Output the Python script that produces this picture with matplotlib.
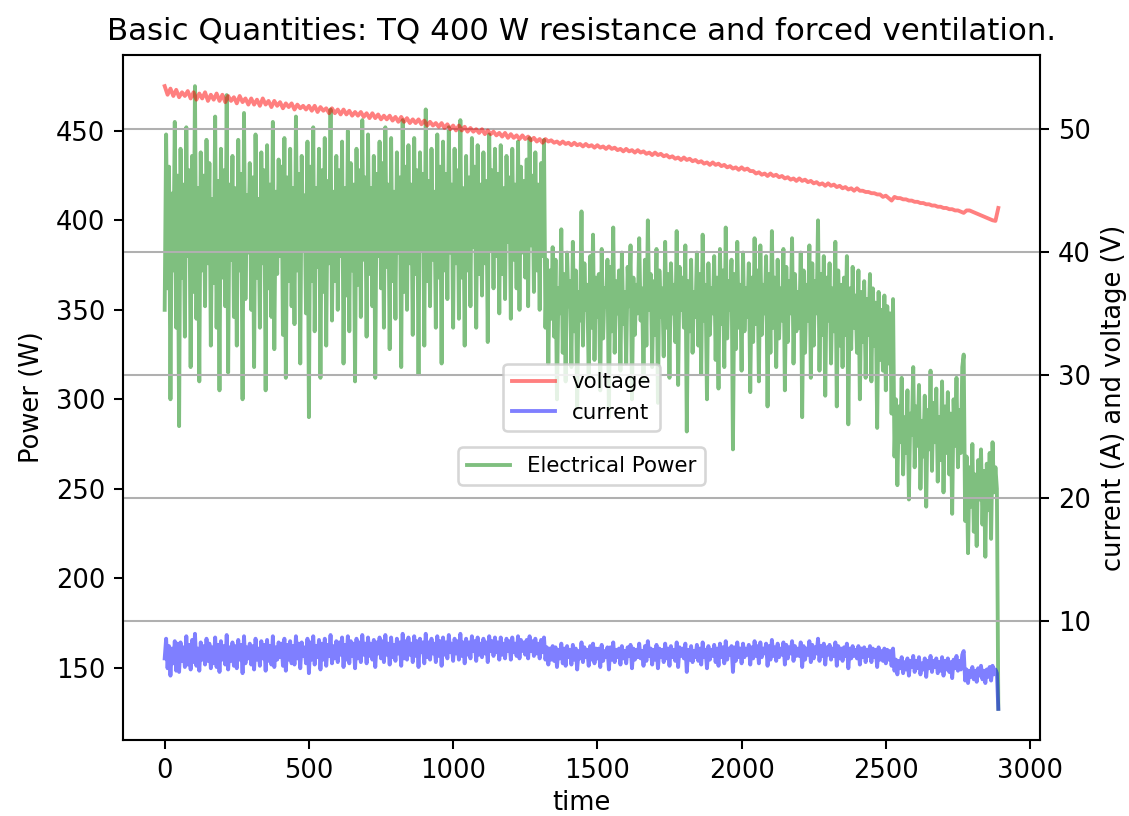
import numpy as np
import matplotlib
matplotlib.use("Agg")
import matplotlib.pyplot as plt

FAST_STEP = 5    # seconds between power / current samples
SLOW_STEP = 10   # seconds between voltage samples

power = [
    350, 448, 362, 430, 300, 415, 372, 455, 340, 425,
    285, 440, 368, 420, 335, 452, 380, 428, 318, 436,
    360, 475, 345, 418, 310, 438, 372, 425, 352, 445,
    376, 432, 330, 412, 365, 458, 340, 422, 305, 440,
    368, 428, 352, 470, 315, 420, 378, 436, 346, 418,
    330, 445, 372, 426, 300, 460, 356, 414, 382, 432,
    350, 424, 318, 448, 368, 412, 340, 438, 376, 428,
    305, 442, 362, 420, 346, 455, 328, 416, 370, 434,
    380, 430, 336, 446, 312, 424, 366, 440, 352, 418,
    342, 458, 372, 426, 320, 436, 384, 414, 348, 444,
    290, 430, 366, 452, 338, 418, 374, 440, 312, 428,
    360, 446, 330, 422, 376, 462, 344, 416, 366, 436,
    350, 428, 380, 444, 320, 418, 358, 450, 338, 432,
    372, 420, 310, 440, 364, 428, 346, 456, 378, 424,
    335, 448, 370, 418, 352, 436, 312, 426, 380, 444,
    362, 432, 340, 452, 374, 420, 328, 446, 366, 416,
    345, 438, 382, 424, 318, 456, 360, 430, 350, 442,
    376, 420, 336, 446, 370, 428, 314, 438, 384, 426,
    330, 462, 366, 422, 352, 440, 378, 416, 340, 448,
    368, 430, 320, 444, 372, 426, 356, 452, 382, 420,
    340, 440, 376, 428, 345, 456, 368, 418, 330, 436,
    372, 424, 352, 446, 385, 430, 340, 442, 370, 420,
    358, 438, 376, 422, 332, 448, 384, 428, 362, 440,
    380, 426, 348, 442, 370, 418, 356, 436, 388, 424,
    345, 440, 378, 420, 362, 444, 350, 430, 382, 422,
    368, 434, 352, 446, 386, 425, 360, 438, 372, 420,
    350, 432, 380, 445, 340, 378, 320, 372, 345, 385,
    335, 378, 300, 362, 348, 395, 326, 370, 310, 382,
    352, 366, 318, 388, 338, 372, 295, 360, 344, 405,
    330, 376, 350, 364, 312, 380, 340, 392, 322, 368,
    346, 370, 305, 384, 334, 362, 352, 378, 290, 374,
    338, 396, 326, 366, 348, 372, 316, 382, 342, 360,
    320, 374, 352, 386, 300, 368, 336, 364, 348, 390,
    344, 362, 310, 378, 330, 400, 350, 370, 318, 366,
    336, 384, 298, 372, 346, 362, 324, 388, 340, 370,
    312, 376, 348, 364, 332, 394, 308, 374, 350, 368,
    340, 386, 282, 366, 338, 378, 326, 360, 346, 382,
    330, 370, 314, 392, 344, 364, 300, 376, 336, 362,
    348, 380, 322, 368, 306, 384, 342, 372, 318, 396,
    334, 366, 350, 378, 272, 370, 328, 388, 340, 364,
    316, 382, 338, 362, 346, 376, 304, 368, 332, 390,
    342, 372, 310, 386, 336, 364, 348, 380, 296, 370,
    326, 394, 340, 368, 318, 378, 334, 362, 344, 384,
    305, 374, 332, 366, 348, 390, 320, 370, 338, 360,
    340, 382, 290, 372, 326, 364, 344, 386, 312, 376,
    330, 366, 348, 400, 316, 370, 336, 380, 302, 368,
    344, 376, 320, 362, 338, 388, 296, 372, 330, 364,
    318, 368, 336, 380, 286, 362, 328, 374, 340, 358,
    326, 372, 300, 360, 332, 366, 312, 356, 336, 370,
    310, 362, 330, 354, 284, 360, 322, 350, 316, 358,
    305, 352, 320, 348, 292, 356, 268, 300, 252, 296,
    276, 312, 258, 290, 270, 305, 244, 292, 280, 318,
    262, 296, 274, 308, 250, 288, 268, 302, 240, 294,
    272, 316, 260, 298, 276, 306, 254, 290, 266, 310,
    248, 296, 270, 304, 258, 292, 236, 300, 274, 312,
    262, 294, 270, 318, 325, 232, 268, 214, 262, 240,
    275, 226, 258, 218, 266, 244, 272, 230, 260, 212,
    264, 238, 270, 222, 276, 248, 262, 250, 127,
]

current = [
    7.0, 8.6, 6.2, 8.0, 5.6, 7.8, 6.6, 8.4, 6.0, 8.2,
    5.9, 8.3, 6.8, 7.9, 6.3, 8.8, 6.5, 8.1, 6.1, 8.5,
    6.7, 9.0, 6.4, 7.8, 6.0, 8.3, 6.9, 8.0, 6.5, 8.6,
    6.8, 8.2, 6.2, 7.9, 6.6, 8.7, 6.3, 8.1, 5.9, 8.4,
    6.9, 8.0, 6.5, 8.9, 6.1, 7.9, 6.8, 8.3, 6.4, 8.0,
    6.2, 8.5, 6.9, 8.1, 5.8, 8.8, 6.6, 7.9, 7.0, 8.2,
    6.5, 8.0, 6.1, 8.6, 6.9, 7.8, 6.4, 8.4, 7.0, 8.1,
    6.0, 8.5, 6.8, 8.0, 6.5, 8.8, 6.3, 7.9, 6.9, 8.3,
    7.1, 8.2, 6.4, 8.6, 6.0, 8.1, 6.9, 8.4, 6.6, 8.0,
    6.5, 8.8, 7.0, 8.2, 6.2, 8.3, 7.2, 7.9, 6.6, 8.6,
    5.8, 8.3, 6.9, 8.8, 6.5, 8.0, 7.1, 8.5, 6.1, 8.2,
    6.9, 8.6, 6.4, 8.1, 7.2, 8.9, 6.6, 8.0, 7.0, 8.4,
    6.7, 8.3, 7.3, 8.7, 6.3, 8.1, 6.9, 8.8, 6.6, 8.4,
    7.2, 8.2, 6.2, 8.6, 7.0, 8.3, 6.7, 8.9, 7.3, 8.2,
    6.6, 8.7, 7.2, 8.2, 6.9, 8.5, 6.3, 8.3, 7.4, 8.7,
    7.0, 8.4, 6.7, 8.9, 7.3, 8.2, 6.5, 8.7, 7.1, 8.1,
    6.8, 8.6, 7.4, 8.3, 6.4, 9.0, 7.0, 8.4, 6.9, 8.7,
    7.3, 8.2, 6.7, 8.8, 7.2, 8.4, 6.3, 8.6, 7.5, 8.3,
    6.6, 9.0, 7.1, 8.3, 6.9, 8.6, 7.4, 8.2, 6.7, 8.8,
    7.2, 8.4, 6.4, 8.7, 7.3, 8.3, 7.0, 8.9, 7.5, 8.2,
    6.8, 8.6, 7.4, 8.4, 6.9, 9.0, 7.2, 8.3, 6.6, 8.6,
    7.3, 8.3, 7.0, 8.8, 7.6, 8.4, 6.8, 8.7, 7.3, 8.2,
    7.1, 8.6, 7.4, 8.3, 6.7, 8.8, 7.6, 8.4, 7.2, 8.7,
    7.5, 8.3, 6.9, 8.7, 7.3, 8.2, 7.0, 8.6, 7.6, 8.4,
    6.9, 8.7, 7.5, 8.2, 7.2, 8.8, 7.0, 8.5, 7.6, 8.3,
    7.3, 8.5, 7.0, 8.8, 7.6, 8.4, 7.2, 8.6, 7.4, 8.2,
    7.0, 8.5, 7.5, 8.7, 6.9, 7.9, 6.5, 7.8, 6.9, 8.0,
    6.8, 7.9, 6.3, 7.7, 7.0, 8.2, 6.6, 7.8, 6.4, 8.0,
    7.1, 7.7, 6.5, 8.1, 6.9, 7.8, 6.1, 7.6, 7.0, 8.3,
    6.7, 7.9, 7.1, 7.7, 6.4, 8.0, 6.9, 8.2, 6.6, 7.8,
    7.0, 7.8, 6.3, 8.1, 6.8, 7.6, 7.1, 7.9, 6.1, 7.9,
    6.9, 8.3, 6.7, 7.7, 7.1, 7.8, 6.5, 8.0, 7.0, 7.6,
    6.6, 7.9, 7.2, 8.1, 6.2, 7.8, 6.9, 7.7, 7.1, 8.2,
    7.0, 7.6, 6.4, 8.0, 6.8, 8.4, 7.2, 7.8, 6.5, 7.7,
    6.9, 8.1, 6.2, 7.8, 7.1, 7.7, 6.7, 8.2, 7.0, 7.8,
    6.4, 8.0, 7.1, 7.7, 6.8, 8.3, 6.3, 7.9, 7.2, 7.8,
    7.0, 8.2, 5.9, 7.7, 6.9, 8.0, 6.7, 7.6, 7.1, 8.1,
    6.8, 7.8, 6.5, 8.3, 7.1, 7.7, 6.2, 8.0, 6.9, 7.7,
    7.2, 8.1, 6.7, 7.8, 6.4, 8.2, 7.1, 7.9, 6.6, 8.4,
    6.9, 7.8, 7.3, 8.0, 5.9, 7.9, 6.8, 8.3, 7.1, 7.8,
    6.6, 8.2, 7.1, 7.8, 7.3, 8.1, 6.5, 7.9, 7.0, 8.4,
    7.2, 8.0, 6.6, 8.3, 7.1, 7.8, 7.4, 8.2, 6.4, 8.0,
    6.9, 8.5, 7.2, 7.9, 6.8, 8.2, 7.1, 7.8, 7.3, 8.3,
    6.5, 8.1, 7.0, 7.9, 7.4, 8.4, 6.8, 8.0, 7.2, 7.8,
    7.2, 8.3, 6.3, 8.0, 6.9, 7.8, 7.3, 8.4, 6.7, 8.1,
    7.0, 7.9, 7.4, 8.6, 6.8, 8.0, 7.2, 8.2, 6.5, 7.9,
    7.3, 8.1, 6.9, 7.8, 7.2, 8.3, 6.4, 8.0, 7.0, 7.8,
    6.8, 7.9, 7.2, 8.2, 6.2, 7.8, 7.0, 8.0, 7.2, 7.7,
    7.0, 8.0, 6.5, 7.8, 7.1, 7.9, 6.7, 7.7, 7.2, 8.0,
    6.7, 7.8, 7.1, 7.7, 6.3, 7.9, 6.9, 7.6, 6.8, 7.8,
    6.6, 7.7, 6.9, 7.6, 6.4, 7.8, 6.0, 6.9, 5.7, 6.8,
    6.2, 7.1, 5.8, 6.7, 6.1, 7.0, 5.6, 6.8, 6.3, 7.2,
    5.9, 6.8, 6.2, 7.1, 5.7, 6.6, 6.1, 7.0, 5.5, 6.8,
    6.2, 7.2, 5.9, 6.8, 6.3, 7.0, 5.8, 6.7, 6.0, 7.1,
    5.6, 6.8, 6.1, 7.0, 5.9, 6.7, 5.4, 6.9, 6.2, 7.2,
    6.0, 6.8, 6.1, 7.3, 7.6, 5.2, 6.1, 5.0, 6.0, 5.5,
    6.3, 5.3, 6.0, 5.1, 6.2, 5.6, 6.4, 5.3, 6.0, 5.0,
    6.1, 5.5, 6.3, 5.2, 6.4, 5.7, 6.1, 5.8, 2.9,
]

voltage = [
    53.5, 52.8, 53.3, 52.7, 53.2, 52.6, 53.0, 52.7, 53.1, 52.5,
    53.0, 52.4, 52.9, 52.5, 53.0, 52.3, 52.8, 52.4, 52.9, 52.3,
    52.8, 52.2, 52.7, 52.3, 52.6, 52.1, 52.7, 52.2, 52.5, 52.0,
    52.5, 52.0, 52.4, 51.9, 52.5, 52.0, 52.3, 51.8, 52.3, 51.9,
    52.2, 51.7, 52.1, 51.8, 52.1, 51.6, 52.0, 51.7, 51.9, 51.6,
    51.9, 51.5, 51.9, 51.4, 51.8, 51.5, 51.7, 51.3, 51.7, 51.3,
    51.6, 51.2, 51.6, 51.2, 51.5, 51.1, 51.4, 51.1, 51.4, 51.0,
    51.3, 50.9, 51.3, 50.9, 51.2, 50.8, 51.1, 50.8, 51.1, 50.7,
    51.0, 50.6, 51.0, 50.6, 50.9, 50.5, 50.8, 50.5, 50.8, 50.4,
    50.7, 50.3, 50.6, 50.3, 50.5, 50.2, 50.5, 50.1, 50.4, 50.0,
    50.3, 49.9, 50.3, 49.9, 50.2, 49.8, 50.1, 49.8, 50.0, 49.7,
    50.0, 49.6, 49.9, 49.6, 49.8, 49.5, 49.7, 49.4, 49.7, 49.3,
    49.6, 49.3, 49.5, 49.2, 49.5, 49.2, 49.4, 49.1, 49.3, 49.0,
    49.2, 48.9, 49.2, 49.0, 49.1, 48.9, 49.0, 48.8, 49.0, 48.8,
    48.9, 48.7, 48.9, 48.7, 48.8, 48.6, 48.8, 48.6, 48.7, 48.5,
    48.7, 48.5, 48.6, 48.4, 48.6, 48.4, 48.5, 48.3, 48.4, 48.2,
    48.4, 48.2, 48.3, 48.1, 48.3, 48.1, 48.2, 48.0, 48.1, 47.9,
    48.1, 47.9, 48.0, 47.8, 47.9, 47.7, 47.8, 47.6, 47.7, 47.5,
    47.7, 47.5, 47.6, 47.4, 47.5, 47.3, 47.4, 47.2, 47.3, 47.1,
    47.3, 47.1, 47.2, 47.0, 47.1, 46.9, 47.0, 46.8, 46.9, 46.7,
    46.9, 46.7, 46.8, 46.6, 46.6, 46.4, 46.5, 46.3, 46.4, 46.2,
    46.4, 46.2, 46.3, 46.1, 46.2, 46.0, 46.1, 45.9, 46.0, 45.8,
    46.0, 45.8, 45.9, 45.7, 45.8, 45.6, 45.7, 45.5, 45.6, 45.4,
    45.6, 45.4, 45.5, 45.3, 45.4, 45.2, 45.3, 45.1, 45.2, 45.0,
    45.2, 45.0, 45.0, 44.9, 44.9, 44.8, 44.8, 44.7, 44.7, 44.5,
    44.6, 44.4, 44.2, 44.5, 44.4, 44.4, 44.3, 44.3, 44.2, 44.2,
    44.1, 44.1, 44.0, 44.0, 43.9, 43.9, 43.8, 43.8, 43.7, 43.7,
    43.6, 43.6, 43.5, 43.5, 43.4, 43.4, 43.3, 43.2, 43.4, 43.4,
    43.3, 43.2, 43.1, 43.0, 42.9, 42.8, 42.7, 42.6, 42.55, 43.6,
]

time_fast = np.arange(len(power)) * FAST_STEP
time_slow = np.arange(len(voltage)) * SLOW_STEP

DPI = 185
fig = plt.figure(figsize=(1129 / DPI, 816 / DPI), dpi=DPI)
ax = fig.add_axes([123 / 1129, 76 / 816, 917 / 1129, 685 / 816])

ax.plot(time_fast, power, color="green", alpha=0.5, label="Electrical Power")
ax.set_xlabel("time", labelpad=2.5)
ax.set_ylabel("Power (W)")
ax.set_title("Basic Quantities: TQ 400 W resistance and forced ventilation.")
ax.legend(loc="center", bbox_to_anchor=(0.5, 0.4), fontsize="small")

ax2 = ax.twinx()
ax2.plot(time_slow, voltage, color="red", alpha=0.5, label="voltage")
ax2.plot(time_fast, current, color="blue", alpha=0.5, label="current")
ax2.set_ylabel("current (A) and voltage (V)")
ax2.grid(True)
ax2.legend(loc="center", fontsize="small")

fig.savefig("out.png", dpi=DPI)
